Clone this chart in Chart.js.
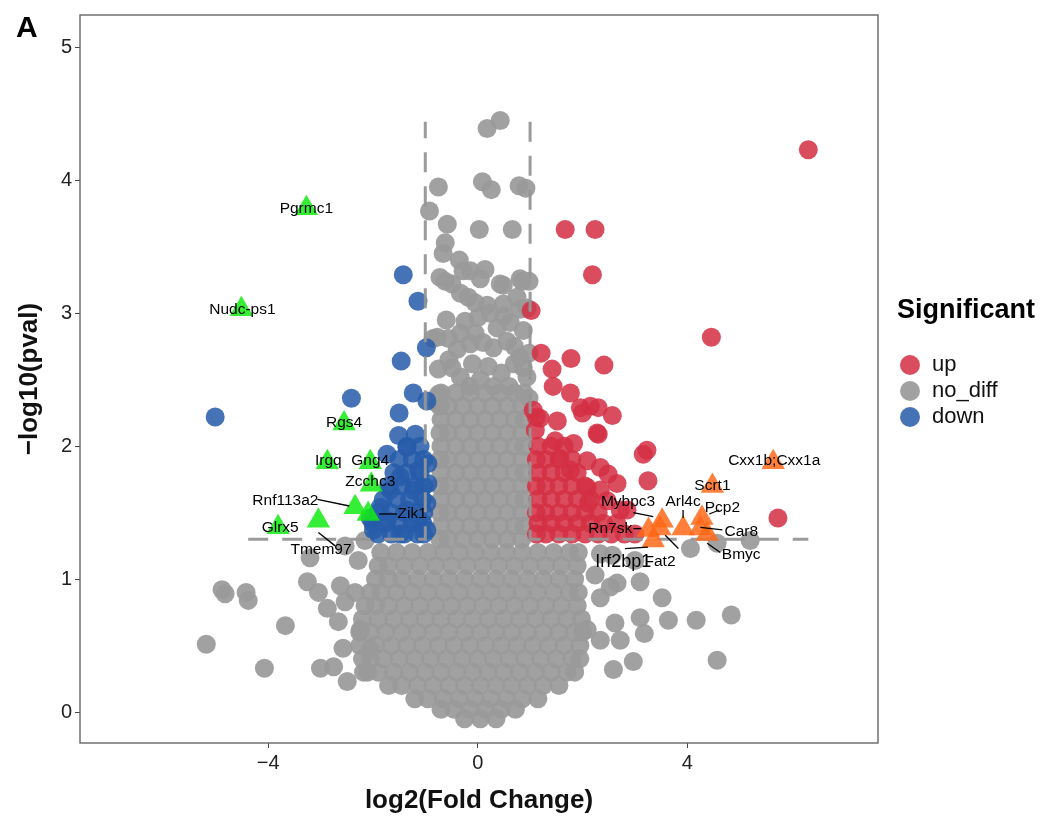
<!DOCTYPE html>
<html lang="en">
<head>
<meta charset="UTF-8">
<title>Volcano plot</title>
<script src="https://cdn.jsdelivr.net/npm/chart.js"></script>
<style>
  html, body { margin: 0; padding: 0; background: #fff; }
  #wrap { width: 1041px; height: 818px; }
</style>
</head>
<body>
<div id="wrap"><canvas id="volcano" width="1041" height="818"></canvas></div>
<script>
// axis ticks
const xTicks = [-4, 0, 4];
const yTicks = [0, 1, 2, 3, 4, 5];
const legendNames = ['up', 'no_diff', 'down'];

// [log2 fold change, -log10 pval]
const upPoints = [
  [6.31,4.23],[1.67,3.63],[2.24,3.63],[2.19,3.29],[4.46,2.82],[1.02,3.02],[1.21,2.70],[1.78,2.66],
  [2.41,2.61],[1.42,2.58],[1.44,2.45],[1.77,2.40],[2.15,2.30],[2.00,2.25],[2.30,2.29],[2.57,2.23],
  [1.52,2.19],[1.19,2.21],[2.28,2.10],[3.16,1.94],[3.25,1.74],[2.49,1.79],[2.09,1.89],[1.83,2.02],
  [1.48,2.04],[1.57,1.91],[2.34,1.67],[2.72,1.52],[2.11,1.57],[1.06,2.27],[1.96,2.29],[2.30,2.09],
  [3.23,1.97],[2.85,1.52],[5.73,1.46],[2.66,1.72],[2.34,1.84],[2.47,1.59],[2.09,1.69],[1.77,1.82],
  [1.10,2.12],[1.12,2.22],
  [1.15,2.00],[1.40,2.00],[1.65,2.00],
  [1.12,1.90],[1.30,1.90],[1.55,1.90],[1.80,1.90],
  [1.15,1.80],[1.40,1.80],[1.65,1.80],[1.90,1.80],
  [1.12,1.70],[1.30,1.70],[1.55,1.70],[1.80,1.70],[2.05,1.70],
  [1.15,1.60],[1.40,1.60],[1.65,1.60],[1.90,1.60],[2.15,1.60],
  [1.12,1.50],[1.30,1.50],[1.55,1.50],[1.80,1.50],[2.05,1.50],[2.30,1.50],
  [1.15,1.42],[1.40,1.42],[1.65,1.42],[1.90,1.42],[2.15,1.42],[2.40,1.42],[2.65,1.42],
  [1.12,1.34],[1.30,1.34],[1.55,1.34],[1.80,1.34],[2.05,1.34],[2.30,1.34],[2.55,1.34],[2.80,1.34],[3.00,1.34]
];

const downPoints = [
  [-5.01,2.22],[-1.42,3.29],[-1.14,3.09],[-1.46,2.64],[-2.41,2.36],[-0.98,2.74],[-1.23,2.40],[-0.97,2.34],
  [-1.50,2.25],[-1.51,2.08],[-1.19,2.09],[-1.73,1.94],[-1.35,1.99],[-0.95,1.87],[-1.13,1.82],[-1.48,1.77],
  [-1.67,1.67],[-1.23,1.67],[-0.95,1.72],[-0.97,1.57],[-1.86,1.54],[-1.35,1.52],[-1.73,1.44],[-1.15,1.42],
  [-1.99,1.37],[-1.48,1.34],[-0.97,1.37],[-2.05,1.46],
  [-1.35,2.00],[-1.10,2.00],
  [-1.50,1.90],[-1.25,1.90],[-1.03,1.90],
  [-1.60,1.80],[-1.35,1.80],[-1.10,1.80],
  [-1.70,1.70],[-1.45,1.70],[-1.20,1.70],[-1.03,1.70],
  [-1.80,1.60],[-1.55,1.60],[-1.30,1.60],[-1.05,1.60],
  [-1.90,1.50],[-1.65,1.50],[-1.40,1.50],[-1.15,1.50],[-1.03,1.50],
  [-2.00,1.42],[-1.75,1.42],[-1.50,1.42],[-1.25,1.42],[-1.05,1.42],
  [-1.90,1.34],[-1.65,1.34],[-1.40,1.34],[-1.15,1.34],[-1.03,1.34]
];

const noDiffPoints = [
  // sparse top
  [0.43,4.45],[0.18,4.39],[-0.75,3.95],[0.09,3.99],[0.26,3.93],[0.79,3.96],[0.92,3.94],[-0.92,3.77],
  [-0.58,3.67],[0.03,3.63],[0.66,3.63],[-0.62,3.53],[-0.66,3.45],[-0.35,3.40],[-0.14,3.32],[0.14,3.33],
  [0.05,3.26],[-0.62,3.24],[-0.49,3.22],[0.49,3.21],[0.85,3.24],[0.98,3.24],[-0.33,3.15],[-0.18,3.12],
  [-0.05,3.08],[0.18,3.06],[0.49,3.07],[0.75,3.12],[0.81,3.03],[0.94,3.04],[-0.24,2.94],[0.01,2.97],
  [0.24,3.00],[0.37,2.89],[0.62,2.93],[0.87,2.87],[-0.85,2.81],[-0.56,2.81],[-0.33,2.85],[-0.39,2.73],
  [-0.14,2.77],[0.10,2.78],[0.30,2.74],[0.56,2.79],[0.81,2.67],[0.98,2.70],[-0.75,2.58],[-0.49,2.59],
  [-0.33,2.52],[0.87,2.59],[0.94,2.52],[-0.75,2.39],[-0.77,2.32],[0.98,2.36],[-0.72,3.27],[-0.28,3.32],
  [0.43,3.22],[0.81,3.26],[-0.77,2.82],[0.20,2.60],[0.45,2.55],[0.05,2.50],[0.60,2.45],[-0.10,2.62],
  [0.30,2.45],[-0.15,2.45],[-0.55,2.65],[0.70,2.62],[-0.05,2.85],[0.70,2.75],[-0.60,2.95],[0.50,2.98],
  // core
  [-0.70,2.40],[-0.42,2.40],[-0.14,2.40],[0.14,2.40],[0.42,2.40],[0.70,2.40],[0.88,2.40],
  [-0.72,2.30],[-0.56,2.30],[-0.28,2.30],[0.00,2.30],[0.28,2.30],[0.56,2.30],[0.84,2.30],
  [-0.70,2.20],[-0.42,2.20],[-0.14,2.20],[0.14,2.20],[0.42,2.20],[0.70,2.20],[0.88,2.20],
  [-0.72,2.10],[-0.56,2.10],[-0.28,2.10],[0.00,2.10],[0.28,2.10],[0.56,2.10],[0.84,2.10],
  [-0.70,2.00],[-0.42,2.00],[-0.14,2.00],[0.14,2.00],[0.42,2.00],[0.70,2.00],[0.88,2.00],
  [-0.72,1.90],[-0.56,1.90],[-0.28,1.90],[0.00,1.90],[0.28,1.90],[0.56,1.90],[0.84,1.90],
  [-0.70,1.80],[-0.42,1.80],[-0.14,1.80],[0.14,1.80],[0.42,1.80],[0.70,1.80],[0.88,1.80],
  [-0.72,1.70],[-0.56,1.70],[-0.28,1.70],[0.00,1.70],[0.28,1.70],[0.56,1.70],[0.84,1.70],
  [-0.70,1.60],[-0.42,1.60],[-0.14,1.60],[0.14,1.60],[0.42,1.60],[0.70,1.60],[0.88,1.60],
  [-0.72,1.50],[-0.56,1.50],[-0.28,1.50],[0.00,1.50],[0.28,1.50],[0.56,1.50],[0.84,1.50],
  [-0.70,1.40],[-0.42,1.40],[-0.14,1.40],[0.14,1.40],[0.42,1.40],[0.70,1.40],[0.88,1.40],
  [-0.72,1.30],[-0.56,1.30],[-0.28,1.30],[0.00,1.30],[0.28,1.30],[0.56,1.30],[0.84,1.30],
  // lower mass
  [-1.85,1.20],[-1.55,1.20],[-1.25,1.20],[-0.95,1.20],[-0.65,1.20],[-0.35,1.20],[-0.05,1.20],[0.25,1.20],[0.55,1.20],[0.85,1.20],[1.15,1.20],[1.45,1.20],[1.75,1.20],[1.92,1.20],
  [-1.90,1.10],[-1.70,1.10],[-1.40,1.10],[-1.10,1.10],[-0.80,1.10],[-0.50,1.10],[-0.20,1.10],[0.10,1.10],[0.40,1.10],[0.70,1.10],[1.00,1.10],[1.30,1.10],[1.60,1.10],[1.90,1.10],
  [-1.95,1.00],[-1.70,1.00],[-1.45,1.00],[-1.15,1.00],[-0.85,1.00],[-0.55,1.00],[-0.25,1.00],[0.05,1.00],[0.35,1.00],[0.65,1.00],[0.95,1.00],[1.25,1.00],[1.55,1.00],[1.85,1.00],
  [-2.05,0.90],[-1.85,0.90],[-1.55,0.90],[-1.25,0.90],[-0.95,0.90],[-0.65,0.90],[-0.35,0.90],[-0.05,0.90],[0.25,0.90],[0.55,0.90],[0.85,0.90],[1.15,0.90],[1.45,0.90],[1.75,0.90],[1.92,0.90],
  [-2.15,0.80],[-1.95,0.80],[-1.70,0.80],[-1.40,0.80],[-1.10,0.80],[-0.80,0.80],[-0.50,0.80],[-0.20,0.80],[0.10,0.80],[0.40,0.80],[0.70,0.80],[1.00,0.80],[1.30,0.80],[1.60,0.80],[1.90,0.80],
  [-2.20,0.70],[-1.90,0.70],[-1.60,0.70],[-1.30,0.70],[-1.00,0.70],[-0.70,0.70],[-0.40,0.70],[-0.10,0.70],[0.20,0.70],[0.50,0.70],[0.80,0.70],[1.10,0.70],[1.40,0.70],[1.70,0.70],[1.98,0.70],
  [-2.25,0.60],[-2.05,0.60],[-1.75,0.60],[-1.45,0.60],[-1.15,0.60],[-0.85,0.60],[-0.55,0.60],[-0.25,0.60],[0.05,0.60],[0.35,0.60],[0.65,0.60],[0.95,0.60],[1.25,0.60],[1.55,0.60],[1.85,0.60],[2.00,0.60],
  [-2.25,0.50],[-1.95,0.50],[-1.65,0.50],[-1.35,0.50],[-1.05,0.50],[-0.75,0.50],[-0.45,0.50],[-0.15,0.50],[0.15,0.50],[0.45,0.50],[0.75,0.50],[1.05,0.50],[1.35,0.50],[1.65,0.50],[1.95,0.50],
  [-2.20,0.40],[-2.05,0.40],[-1.80,0.40],[-1.50,0.40],[-1.20,0.40],[-0.90,0.40],[-0.60,0.40],[-0.30,0.40],[0.00,0.40],[0.30,0.40],[0.60,0.40],[0.90,0.40],[1.20,0.40],[1.50,0.40],[1.80,0.40],[1.95,0.40],
  [-2.10,0.30],[-1.90,0.30],[-1.60,0.30],[-1.30,0.30],[-1.00,0.30],[-0.70,0.30],[-0.40,0.30],[-0.10,0.30],[0.20,0.30],[0.50,0.30],[0.80,0.30],[1.10,0.30],[1.40,0.30],[1.70,0.30],[1.85,0.30],
  [-1.70,0.20],[-1.45,0.20],[-1.15,0.20],[-0.85,0.20],[-0.55,0.20],[-0.25,0.20],[0.05,0.20],[0.35,0.20],[0.65,0.20],[0.95,0.20],[1.25,0.20],[1.55,0.20],
  [-1.20,0.10],[-0.95,0.10],[-0.65,0.10],[-0.35,0.10],[-0.05,0.10],[0.25,0.10],[0.55,0.10],[0.85,0.10],[1.15,0.10],
  [-0.70,0.02],[-0.45,0.02],[-0.15,0.02],[0.15,0.02],[0.45,0.02],[0.72,0.02],
  [-0.25,-0.05],[0.05,-0.05],[0.35,-0.05],
  // sparse left
  [-5.18,0.51],[-4.88,0.92],[-4.82,0.89],[-4.42,0.90],[-4.38,0.84],[-4.07,0.33],[-3.67,0.65],[-3.25,0.98],
  [-3.04,0.90],[-3.00,0.33],[-2.87,0.78],[-2.66,0.68],[-2.62,0.95],[-2.53,0.83],[-2.57,0.48],[-2.75,0.34],
  [-2.49,0.23],[-2.34,0.90],[-2.18,0.30],[-3.20,1.16],[-2.53,1.25],[-2.15,1.29],[-2.28,1.14],[-2.24,0.62],
  [-2.05,0.47],
  // sparse right
  [2.34,1.19],[2.53,0.94],[2.66,0.97],[3.10,0.71],[2.62,0.67],[2.72,0.54],[2.34,0.54],[2.97,0.38],
  [2.59,0.32],[2.09,0.62],[3.18,0.59],[3.64,0.69],[4.17,0.69],[4.84,0.73],[4.57,0.39],[2.34,0.86],
  [2.24,1.03],[4.57,1.27],[5.20,1.29],[4.06,1.23],[3.00,1.14],[2.57,1.18],[3.52,0.86],[3.10,0.98]
];

// labelled genes
const downGenes = ['Pgrmc1','Nudc-ps1','Rgs4','Irgq','Gng4','Zcchc3','Rnf113a2','Zik1','Tmem97','Glrx5'];
const downGeneValues = [[-3.27,3.79],[-4.51,3.03],[-2.55,2.17],[-2.87,1.88],[-2.05,1.88],[-2.03,1.71],[-2.34,1.54],[-2.09,1.49],[-3.04,1.44],[-3.81,1.39]];
const upGenes = ['Cxx1b;Cxx1a','Scrt1','Mybpc3','Arl4c','Pcp2','Car8','Bmyc','Rn7sk','Irf2bp1','Fat2'];
const upGeneValues = [[5.64,1.88],[4.48,1.70],[3.52,1.44],[3.92,1.38],[4.28,1.46],[4.25,1.38],[4.38,1.34],[3.26,1.37],[3.35,1.29],[3.48,1.38]];

// threshold guides (|log2FC| = 1, p = 0.05)
const leftGuide = [[-4.38,1.3],[-1,1.3],[-1,4.44]];
const rightGuide = [[1,4.44],[1,1.3],[6.31,1.3]];

// label placement (repelled text), in data units
const labelSpots = {
  'Pgrmc1': {at:[-3.27,3.79]},
  'Nudc-ps1': {at:[-4.49,3.03]},
  'Rgs4': {at:[-2.55,2.18]},
  'Irgq': {at:[-2.85,1.89]},
  'Gng4': {at:[-2.05,1.89]},
  'Zcchc3': {at:[-2.05,1.73]},
  'Rnf113a2': {at:[-3.67,1.59], seg:[[-3.06,1.60],[-2.45,1.55]]},
  'Zik1': {at:[-1.25,1.49], seg:[[-1.88,1.49],[-1.54,1.49]]},
  'Tmem97': {at:[-2.99,1.22], seg:[[-3.04,1.35],[-2.72,1.25]]},
  'Glrx5': {at:[-3.77,1.39]},
  'Cxx1b;Cxx1a': {at:[5.66,1.89]},
  'Scrt1': {at:[4.48,1.70]},
  'Mybpc3': {at:[2.87,1.58], seg:[[2.97,1.50],[3.35,1.47]]},
  'Arl4c': {at:[3.92,1.58], seg:[[3.92,1.52],[3.92,1.46]]},
  'Pcp2': {at:[4.67,1.54], seg:[[4.42,1.49],[4.61,1.52]]},
  'Car8': {at:[5.03,1.36], seg:[[4.25,1.39],[4.67,1.37]]},
  'Bmyc': {at:[5.03,1.18], seg:[[4.38,1.27],[4.63,1.20]]},
  'Fat2': {at:[3.48,1.13], seg:[[3.58,1.33],[3.83,1.23]]},
  'Rn7sk': {at:[2.53,1.38], seg:[[2.97,1.38],[3.12,1.38]]},
  'Irf2bp1': {at:[2.78,1.13], seg:[[2.81,1.23],[3.25,1.24]], size:18}
};

const FONT = "'Liberation Sans', Arial, Helvetica, sans-serif";
const toXY = arr => arr.map(([x, y]) => ({x, y}));
const minus = v => (v < 0 ? '\u2212' + Math.abs(v) : String(v));

const colors = {
  up: 'rgba(212,48,68,0.86)',
  no_diff: 'rgba(154,154,154,0.93)',
  down: 'rgba(38,92,170,0.86)'
};

// frame around the panel
const framePlugin = {
  id: 'frame',
  afterDraw(chart) {
    const {ctx, chartArea: a} = chart;
    ctx.save();
    ctx.strokeStyle = '#666';
    ctx.lineWidth = 1.4;
    ctx.strokeRect(a.left, a.top, a.right - a.left, a.bottom - a.top);
    ctx.restore();
  }
};

// gene labels with leader segments
const geneLabelPlugin = {
  id: 'geneLabels',
  afterDatasetsDraw(chart) {
    const {ctx, scales: {x, y}} = chart;
    ctx.save();
    ctx.fillStyle = '#000';
    ctx.strokeStyle = '#000';
    ctx.lineWidth = 1.3;
    ctx.textAlign = 'center';
    ctx.textBaseline = 'middle';
    Object.keys(labelSpots).forEach(name => {
      const s = labelSpots[name];
      if (s.seg) {
        ctx.beginPath();
        ctx.moveTo(x.getPixelForValue(s.seg[0][0]), y.getPixelForValue(s.seg[0][1]));
        ctx.lineTo(x.getPixelForValue(s.seg[1][0]), y.getPixelForValue(s.seg[1][1]));
        ctx.stroke();
      }
      ctx.font = (s.size || 15.5) + 'px ' + FONT;
      ctx.fillText(name, x.getPixelForValue(s.at[0]), y.getPixelForValue(s.at[1]));
    });
    ctx.restore();
  }
};

// ggplot style legend on the right + panel tag
const sideLegendPlugin = {
  id: 'sideLegend',
  afterDraw(chart) {
    const {ctx, chartArea: a} = chart;
    const x0 = a.right + 19;
    ctx.save();
    ctx.fillStyle = '#000';
    ctx.textAlign = 'left';
    ctx.textBaseline = 'alphabetic';
    ctx.font = 'bold 27px ' + FONT;
    ctx.fillText('Significant', x0, 318);
    ctx.font = '22px ' + FONT;
    ctx.textBaseline = 'middle';
    legendNames.forEach((name, i) => {
      const cy = 365 + i * 26;
      ctx.beginPath();
      ctx.arc(x0 + 13, cy, 10, 0, Math.PI * 2);
      ctx.fillStyle = colors[name];
      ctx.fill();
      ctx.fillStyle = '#111';
      ctx.fillText(name, x0 + 35, cy);
    });
    ctx.font = 'bold 30px ' + FONT;
    ctx.textBaseline = 'alphabetic';
    ctx.fillStyle = '#000';
    ctx.fillText('A', 16, 37);
    ctx.restore();
  }
};

const guideStyle = {
  type: 'line',
  borderColor: 'rgba(150,150,150,0.95)',
  borderWidth: 3,
  borderDash: [20, 14],
  pointRadius: 0,
  fill: false,
  tension: 0,
  order: 3
};

new Chart(document.getElementById('volcano'), {
  type: 'scatter',
  data: {
    datasets: [
      {label: 'no_diff', data: toXY(noDiffPoints), backgroundColor: colors.no_diff, pointRadius: 9.5, borderWidth: 0, order: 6},
      {label: 'up', data: toXY(upPoints), backgroundColor: colors.up, pointRadius: 9.5, borderWidth: 0, order: 5},
      {label: 'down', data: toXY(downPoints), backgroundColor: colors.down, pointRadius: 9.5, borderWidth: 0, order: 5},
      Object.assign({label: 'guideL', data: toXY(leftGuide)}, guideStyle),
      Object.assign({label: 'guideR', data: toXY(rightGuide)}, guideStyle),
      {label: 'down genes', data: toXY(downGeneValues), pointStyle: 'triangle', pointRadius: 13.5,
       backgroundColor: 'rgba(20,235,20,0.85)', borderWidth: 0, order: 1},
      {label: 'up genes', data: toXY(upGeneValues), pointStyle: 'triangle', pointRadius: 13.5,
       backgroundColor: 'rgba(255,105,25,0.85)', borderWidth: 0, order: 1}
    ]
  },
  options: {
    responsive: false,
    animation: false,
    events: [],
    layout: { padding: {top: 14, right: 163, bottom: 0, left: 0} },
    plugins: { legend: {display: false}, tooltip: {enabled: false} },
    scales: {
      x: {
        type: 'linear',
        min: -7.59, max: 7.64,
        afterBuildTicks: s => { s.ticks = xTicks.map(v => ({value: v})); },
        afterFit: s => { s.height = 75; },
        grid: {drawOnChartArea: false, drawTicks: true, tickLength: 5, tickColor: '#444'},
        border: {display: false},
        ticks: {color: '#222', font: {family: FONT, size: 20}, padding: 3, callback: minus, maxRotation: 0},
        title: {display: true, text: 'log2(Fold Change)', color: '#111',
                font: {family: FONT, size: 26, weight: 'bold', lineHeight: 1}, padding: {top: 0, bottom: 4}}
      },
      y: {
        type: 'linear',
        min: -0.233, max: 5.244,
        afterBuildTicks: s => { s.ticks = yTicks.map(v => ({value: v})); },
        afterFit: s => { s.width = 80; },
        grid: {drawOnChartArea: false, drawTicks: true, tickLength: 5, tickColor: '#444'},
        border: {display: false},
        ticks: {color: '#222', font: {family: FONT, size: 20}, padding: 3, callback: minus},
        title: {display: true, text: '\u2212log10(pval)', color: '#111',
                font: {family: FONT, size: 26, weight: 'bold', lineHeight: 1}, padding: {top: 17, bottom: 0}}
      }
    }
  },
  plugins: [framePlugin, geneLabelPlugin, sideLegendPlugin]
});
</script>
</body>
</html>
